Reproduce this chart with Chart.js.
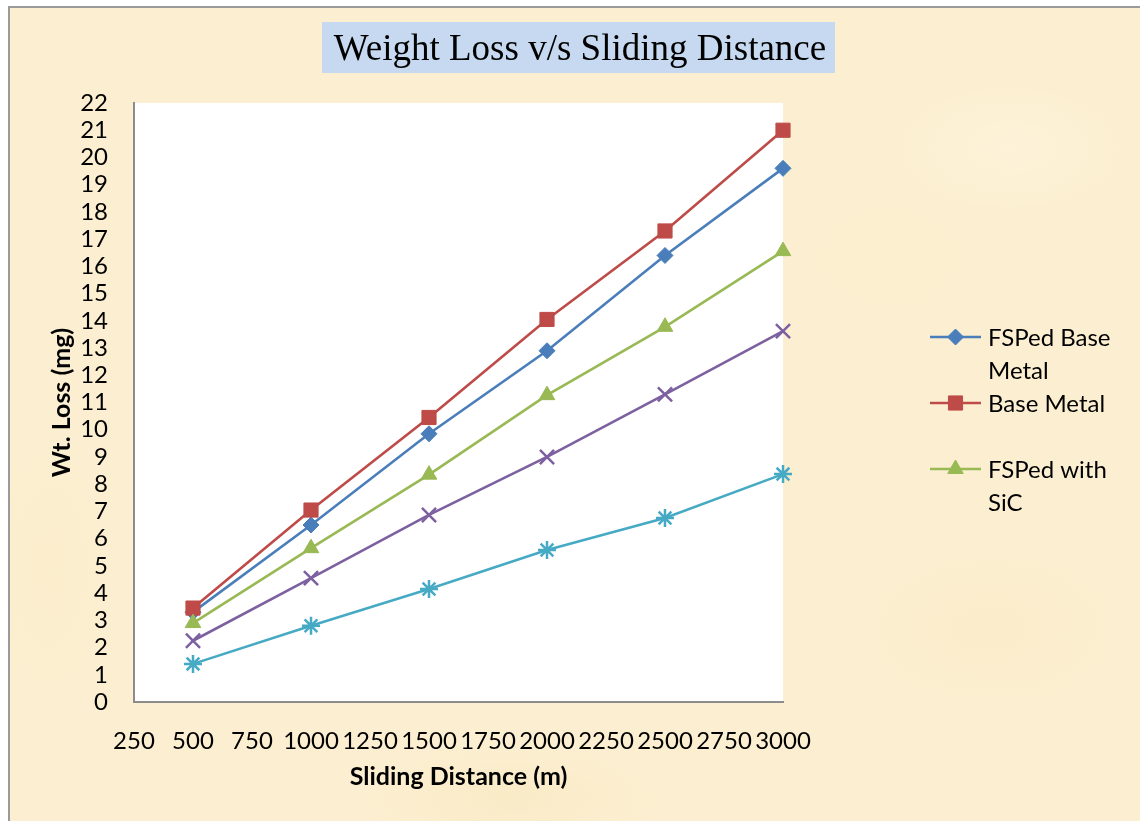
<!DOCTYPE html>
<html>
<head>
<meta charset="utf-8">
<script src="https://cdn.jsdelivr.net/npm/chart.js@4/dist/chart.umd.min.js"></script>
<style>
  html, body { margin: 0; padding: 0; background: #ffffff; }
  #page { position: relative; width: 1140px; height: 821px; overflow: hidden; }
  #paper {
    position: absolute; left: 8px; top: 6px; right: 0; bottom: 0;
    border-top: 2px solid #9a9a9a; border-left: 2px solid #9a9a9a;
    background-color: #fcefd1;
    background-image:
      radial-gradient(ellipse 160px 90px at 1000px 140px, rgba(255,247,226,0.45), rgba(255,247,226,0) 70%),
      radial-gradient(ellipse 200px 120px at 980px 620px, rgba(248,233,194,0.45), rgba(248,233,194,0) 70%),
      radial-gradient(ellipse 220px 80px at 500px 790px, rgba(247,230,186,0.45), rgba(247,230,186,0) 70%),
      radial-gradient(ellipse 90px 200px at 40px 560px, rgba(250,236,200,0.5), rgba(250,236,200,0) 70%),
      radial-gradient(ellipse 140px 100px at 880px 250px, rgba(250,238,204,0.45), rgba(250,238,204,0) 70%);
  }
  #chart { position: absolute; left: 0; top: 0; }
</style>
</head>
<body>
<div id="page">
  <div id="paper"></div>
  <canvas id="chart" width="1140" height="821"></canvas>
</div>
<script>
// Sliding distance (m) and weight loss (mg) for each specimen
const distances = [500, 1000, 1500, 2000, 2500, 3000];
const seriesNames = ['FSPed Base Metal', 'Base Metal', 'FSPed with SiC', 'Series 4', 'Series 5'];
const fspedBase   = [3.3, 6.5, 9.85, 12.9, 16.4, 19.6];
const baseMetal   = [3.45, 7.05, 10.45, 14.05, 17.3, 21.0];
const fspedSiC    = [2.9, 5.65, 8.35, 11.27, 13.78, 16.56];
const series4     = [2.25, 4.55, 6.87, 9.0, 11.3, 13.62];
const series5     = [1.4, 2.8, 4.15, 5.58, 6.76, 8.37];
const seriesColors = ['#4a7ebb', '#be4b48', '#98b954', '#7d60a0', '#46aac5'];
const pointStyles  = ['rectRot', 'rect', 'triangle', 'crossRot', 'star'];
const pointRadii   = [8, 10, 9, 10, 9];
const legendCount  = 3;           // only the first three series appear in the key
const xTicks = { min: 250, max: 3000, step: 250 };
const yTicks = { min: 0, max: 22, step: 1 };
const titleText = 'Weight Loss v/s Sliding Distance';
const xTitle = 'Sliding Distance (m)';
const yTitle = 'Wt. Loss (mg)';

const seriesValues = [fspedBase, baseMetal, fspedSiC, series4, series5];
const FONT = 'Lato, "Open Sans", sans-serif';

const datasets = seriesValues.map((vals, i) => ({
  label: seriesNames[i],
  data: vals.map((v, j) => ({ x: distances[j], y: v })),
  borderColor: seriesColors[i],
  backgroundColor: seriesColors[i],
  pointBackgroundColor: seriesColors[i],
  pointBorderColor: seriesColors[i],
  borderWidth: 2.6,
  pointStyle: pointStyles[i],
  pointRadius: pointRadii[i],
  pointBorderWidth: (pointStyles[i] === 'crossRot' || pointStyles[i] === 'star') ? 2.5 : 1,
  tension: 0,
  clip: false,
  order: seriesValues.length - i
}));

// white plot area
const plotBackground = {
  id: 'plotBackground',
  beforeDraw(chart) {
    const { ctx, chartArea: a } = chart;
    ctx.save();
    ctx.fillStyle = '#ffffff';
    ctx.fillRect(a.left, a.top, a.right - a.left, a.bottom - a.top);
    ctx.restore();
  }
};

// boxed title above the plot
const boxedTitle = {
  id: 'boxedTitle',
  afterDraw(chart) {
    const { ctx } = chart;
    ctx.save();
    ctx.fillStyle = '#c6d9f1';
    ctx.fillRect(322, 22, 513, 51);
    ctx.fillStyle = '#000000';
    ctx.font = '37px "Liberation Serif", "Times New Roman", serif';
    ctx.textAlign = 'center';
    ctx.textBaseline = 'middle';
    ctx.fillText(titleText, 580, 50);
    ctx.restore();
  }
};

function wrapWords(ctx, text, maxWidth) {
  const words = text.split(' ');
  const lines = [];
  let cur = '';
  for (const w of words) {
    const t = cur ? cur + ' ' + w : w;
    if (ctx.measureText(t).width > maxWidth && cur) { lines.push(cur); cur = w; }
    else cur = t;
  }
  if (cur) lines.push(cur);
  return lines;
}

// key on the right, each entry takes two rows
const sideLegend = {
  id: 'sideLegend',
  afterDraw(chart) {
    const { ctx } = chart;
    const rowH = 33, firstY = 337, lineX0 = 930, lineX1 = 981, textX = 988;
    ctx.save();
    ctx.font = '24px ' + FONT;
    ctx.textBaseline = 'middle';
    ctx.textAlign = 'left';
    for (let i = 0; i < legendCount; i++) {
      const ds = chart.data.datasets[i];
      const y = firstY + i * rowH * 2;
      ctx.strokeStyle = ds.borderColor;
      ctx.lineWidth = 2.6;
      ctx.beginPath();
      ctx.moveTo(lineX0, y);
      ctx.lineTo(lineX1, y);
      ctx.stroke();
      ctx.fillStyle = ds.borderColor;
      ctx.lineWidth = 1;
      Chart.helpers.drawPoint(ctx, {
        pointStyle: ds.pointStyle, rotation: 0, radius: ds.pointRadius, borderWidth: 1
      }, (lineX0 + lineX1) / 2, y);
      ctx.fillStyle = '#000000';
      const lines = wrapWords(ctx, ds.label, 140);
      lines.forEach((ln, k) => ctx.fillText(ln, textX, y + 1 + k * rowH));
    }
    ctx.restore();
  }
};

new Chart(document.getElementById('chart'), {
  type: 'line',
  data: { datasets },
  plugins: [plotBackground, boxedTitle, sideLegend],
  options: {
    responsive: false,
    animation: false,
    layout: { padding: { left: 0, top: 103, right: 357, bottom: 0 } },
    plugins: {
      legend: { display: false },
      title: { display: false },
      tooltip: { enabled: false }
    },
    scales: {
      x: {
        type: 'linear',
        min: xTicks.min, max: xTicks.max,
        ticks: {
          stepSize: xTicks.step, color: '#000', font: { family: FONT, size: 24 }, padding: 25,
          maxRotation: 0, autoSkip: false,
          callback: (v) => String(v)
        },
        grid: { display: false, drawTicks: false },
        border: { display: true, color: '#8c8c8c', width: 2 },
        title: { display: true, text: xTitle, color: '#000', font: { family: FONT, size: 25, weight: 'bold' }, padding: { top: 0, bottom: 29 } },
        afterFit(scale) { scale.height = 119; }
      },
      y: {
        min: yTicks.min, max: yTicks.max,
        ticks: { stepSize: yTicks.step, color: '#000', font: { family: FONT, size: 24 }, padding: 26, autoSkip: false },
        grid: { display: false, drawTicks: false },
        border: { display: true, color: '#8c8c8c', width: 2 },
        title: { display: true, text: yTitle, color: '#000', font: { family: FONT, size: 25, weight: 'bold' }, padding: { top: 47, bottom: 0 } },
        afterFit(scale) { scale.width = 134; }
      }
    }
  }
});
</script>
</body>
</html>
